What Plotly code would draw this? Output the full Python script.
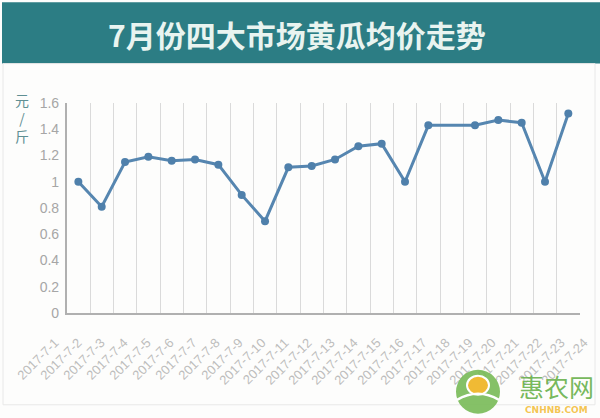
import plotly.graph_objects as go

# ---------------- data ----------------
title_text = "7月份四大市场黄瓜均价走势"
y_unit = "元<br>/<br>斤"
date_labels = ["2017-7-%d" % d for d in range(1, 25)]
prices = [1.00, 0.81, 1.15, 1.19, 1.16, 1.17, 1.13, 0.90, 0.70, 1.11, 1.12,
          1.17, 1.27, 1.29, 1.00, 1.43, None, 1.43, 1.47, 1.45, 1.00, 1.52]
y_ticks = [0, 0.2, 0.4, 0.6, 0.8, 1.0, 1.2, 1.4, 1.6]
y_ticktext = ["0", "0.2", "0.4", "0.6", "0.8", "1", "1.2", "1.4", "1.6"]

# ---------------- geometry ----------------
W, H = 600, 418
ML, MR, MT, MB = 40, 4, 102.5, 105
PW = W - ML - MR
PH = H - MT - MB

def px(xp):
    return (xp - ML) / PW

def py(yp):
    return (H - MB - yp) / PH

plot_left, plot_right = 66.7, 580
first_label_px, label_step = 55, 23.0
r0 = -(first_label_px - ML) / label_step
r1 = r0 + PW / label_step

line_color = "#5686b0"
grid_color = "#dadada"
axis_color = "#b0b0b0"

fig = go.Figure()
fig.add_trace(go.Scatter(
    x=list(range(len(prices))), y=prices, mode="lines+markers",
    connectgaps=True,
    line=dict(color=line_color, width=3),
    marker=dict(color="#4f80ab", size=8),
    showlegend=False, hoverinfo="y"))
# carrier trace for the date tick labels
fig.add_trace(go.Scatter(
    x=list(range(len(date_labels))), y=[None] * len(date_labels),
    xaxis="x2", yaxis="y", mode="markers", showlegend=False, hoverinfo="skip"))

shapes = [
    # title banner
    dict(type="rect", xref="paper", yref="paper", x0=px(2), x1=px(600),
         y0=py(63), y1=py(1.5), fillcolor="#2c7d84", line=dict(width=0), layer="below"),
    # outer frame
    dict(type="rect", xref="paper", yref="paper", x0=px(3), x1=px(595),
         y0=py(405), y1=py(63), fillcolor="rgba(0,0,0,0)",
         line=dict(color="#e8e8e8", width=1), layer="below"),
    # watermark logo
    dict(type="circle", xref="paper", yref="paper", x0=px(456), x1=px(500),
         y0=py(414), y1=py(370), fillcolor="rgba(120,186,86,0.9)", line=dict(width=0)),
    dict(type="circle", xref="paper", yref="paper", x0=px(467), x1=px(489),
         y0=py(395), y1=py(376), fillcolor="rgba(245,185,50,0.95)",
         line=dict(color="white", width=2)),
    dict(type="path", xref="paper", yref="paper",
         path="M %f %f Q %f %f %f %f" % (px(457), py(400), px(478), py(388), px(499), py(400)),
         line=dict(color="white", width=2.5)),
]

annotations = [
    dict(text=title_text, xref="paper", yref="paper", x=px(297), y=py(33),
         showarrow=False, xanchor="center", yanchor="middle",
         font=dict(family="Noto Sans CJK SC", size=30, color="#e9f4f0", weight="bold")),
    dict(text=y_unit, xref="paper", yref="paper", x=px(22), y=py(118),
         showarrow=False, xanchor="center", yanchor="middle",
         font=dict(family="Noto Sans CJK SC", size=14, color="#5f8f93")),
    dict(text="惠农网", xref="paper", yref="paper", x=px(556), y=py(386),
         showarrow=False, xanchor="center", yanchor="middle",
         font=dict(family="Noto Sans CJK SC", size=25, color="rgba(102,176,72,0.9)")),
    dict(text="CNHNB.COM", xref="paper", yref="paper", x=px(556), y=py(410),
         showarrow=False, xanchor="center", yanchor="middle",
         font=dict(family="DejaVu Sans", size=9, color="rgba(243,190,60,0.9)", weight="bold")),
]

fig.update_layout(
    width=W, height=H,
    margin=dict(l=ML, r=MR, t=MT, b=MB, pad=0),
    paper_bgcolor="#fdfdfc", plot_bgcolor="rgba(0,0,0,0)",
    font=dict(family="Liberation Sans, Arial, sans-serif"),
    xaxis=dict(domain=[px(plot_left), px(plot_right)], range=[-0.5, len(prices) - 0.5],
               showticklabels=False, ticks="", tick0=0.5, dtick=1,
               showgrid=True, gridcolor=grid_color, gridwidth=1,
               showline=True, linecolor=axis_color, linewidth=1.5, zeroline=False),
    xaxis2=dict(domain=[0, 1], anchor="y", range=[r0, r1],
                tickmode="array", tickvals=list(range(len(date_labels))), ticktext=date_labels,
                tickangle=-45, ticks="outside", ticklen=16, tickcolor="rgba(0,0,0,0)",
                tickfont=dict(size=13, color="#bdbdbd"),
                showgrid=False, showline=False, zeroline=False),
    yaxis=dict(range=[0, 1.6], tickmode="array", tickvals=y_ticks, ticktext=y_ticktext,
               showgrid=False, zeroline=False, showline=True, linecolor=axis_color,
               linewidth=1.5, ticks="outside", ticklen=3, tickcolor="rgba(0,0,0,0)",
               tickfont=dict(size=14, color="#a6a6a6")),
    shapes=shapes, annotations=annotations,
)

fig.write_html("out.html", config={"displayModeBar": False},
               post_script="document.body.style.margin='0';")
